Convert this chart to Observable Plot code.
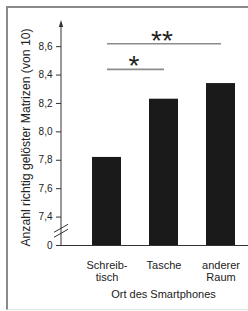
<!DOCTYPE html>
<html>
<head>
<meta charset="utf-8">
<script src="https://cdn.jsdelivr.net/npm/d3@7"></script>
<script src="https://cdn.jsdelivr.net/npm/@observablehq/plot@0.6"></script>
<style>
  html, body { margin: 0; padding: 0; background: #fff; }
  body { width: 248px; height: 311px; position: relative; overflow: hidden; font-family: "Liberation Sans", Arial, sans-serif; }
  #chart { position: absolute; left: 0; top: 0; }
  #frame { position: absolute; left: 6px; top: 6px; width: 300px; height: 301px;
           border-left: 2px solid #8a8a8a; border-top: 2px solid #8a8a8a; border-bottom: 1px solid #e2e2e2; pointer-events: none; }
</style>
</head>
<body>
<div id="chart"></div>
<div id="frame"></div>
<script>
// Data
const categories = ["Schreibtisch", "Tasche", "anderer Raum"];
const categoryLabels = ["Schreib-\ntisch", "Tasche", "anderer\nRaum"];
const values = [7.82, 8.23, 8.34];
const baseline = 7.2; // shown as "0" after the axis break
const yTicks = [7.2, 7.4, 7.6, 7.8, 8.0, 8.2, 8.4, 8.6];
const yTickLabels = ["0", "7,4", "7,6", "7,8", "8,0", "8,2", "8,4", "8,6"];
const sigFrom = ["Schreibtisch", "Schreibtisch"];
const sigTo = ["anderer Raum", "Tasche"];
const sigLevel = [8.62, 8.44];
const sigStars = ["**", "*"];
const yLabel = "Anzahl richtig gelöster Matrizen (von 10)";
const xLabel = "Ort des Smartphones";

const bars = categories.map((c, i) => ({cat: c, value: values[i]}));
const sigs = sigFrom.map((f, i) => ({from: f, to: sigTo[i], y: sigLevel[i], stars: sigStars[i]}));

// Y axis line with arrow and break marks (drawn in the scale's coordinates)
function axisDecor(index, scales, values, dim) {
  const g = d3.create("svg:g");
  const x = dim.marginLeft;
  const y0 = scales.y(baseline);
  const yTop = dim.marginTop;
  g.append("line").attr("x1", x).attr("x2", x).attr("y1", y0).attr("y2", yTop + 2)
    .attr("stroke", "#333").attr("stroke-width", 1);
  g.append("path").attr("d", `M${x},${yTop - 2}L${x - 2.2},${yTop + 5}L${x + 2.2},${yTop + 5}Z`).attr("fill", "#333");
  const yc = scales.y((baseline + yTicks[1]) / 2);
  for (const off of [-2.5, 2.5]) {
    g.append("line").attr("x1", x - 7).attr("y1", yc + off + 4).attr("x2", x + 7).attr("y2", yc + off - 4)
      .attr("stroke", "#333").attr("stroke-width", 1);
  }
  return g.node();
}

const chart = Plot.plot({
  width: 248,
  height: 311,
  marginLeft: 61,
  marginRight: 0,
  marginTop: 22,
  marginBottom: 66,
  style: {background: "transparent", fontFamily: "Liberation Sans, Arial, sans-serif", color: "#222"},
  x: {domain: categories, paddingInner: 0.49, paddingOuter: 0.385, align: 0.705, axis: null},
  y: {domain: [baseline, 8.77], axis: null},
  marks: [
    Plot.barY(bars, {x: "cat", y1: baseline, y2: "value", fill: "#1a1a1a"}),
    Plot.ruleY([baseline], {stroke: "#333", strokeWidth: 1}),
    axisDecor,
    Plot.axisY({ticks: yTicks, tickFormat: (d, i) => yTickLabels[yTicks.indexOf(d)], tickSize: 5, tickPadding: 4, fontSize: 10, label: null, stroke: "#333"}),
    Plot.axisX({tickFormat: d => categoryLabels[categories.indexOf(d)], tickSize: 0, tickPadding: 15.5, fontSize: 11, lineHeight: 1.07, label: null}),
    Plot.text([xLabel], {frameAnchor: "bottom", textAnchor: "middle", lineAnchor: "middle", dx: 8.5, dy: 49, fontSize: 11, fill: "#222"}),
    Plot.text([yLabel], {frameAnchor: "left", textAnchor: "middle", lineAnchor: "middle", rotate: -90, dx: -35, dy: 3.5, fontSize: 12.2, fill: "#222"}),
    Plot.link(sigs, {x1: "from", x2: "to", y1: "y", y2: "y", stroke: "#8c8c8c", strokeWidth: 1.6}),
    Plot.text(sigs.filter(d => d.stars === "**"), {x: "to", y: "y", text: "stars", dx: -59, dy: -3, fontSize: 28, fill: "#222"}),
    Plot.text(sigs.filter(d => d.stars === "*"), {x: "from", y: "y", text: "stars", dx: 27, dy: -3, fontSize: 28, fill: "#222"})
  ]
});
document.getElementById("chart").appendChild(chart);
</script>
</body>
</html>
